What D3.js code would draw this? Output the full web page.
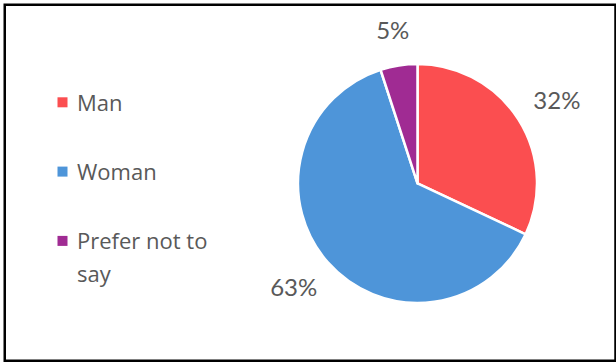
<!DOCTYPE html>
<html>
<head>
<meta charset="utf-8">
<script src="https://cdn.jsdelivr.net/npm/d3@7"></script>
<style>
  html, body { margin: 0; padding: 0; background: #fff; }
  svg { display: block; }
  text { fill: #595959; }
</style>
</head>
<body>
<svg id="chart" width="616" height="362"></svg>
<script>
// Respondent gender breakdown
const categories = ["Man", "Woman", "Prefer not to say"];
const legendLines = [["Man"], ["Woman"], ["Prefer not to", "say"]];
const values = [32, 63, 5];
const colors = ["#FB4E50", "#4E95D9", "#A02B93"];

const W = 616, H = 362;
const svg = d3.select("#chart");

// Chart frame
svg.append("rect")
  .attr("x", 4.75).attr("y", 4.75)
  .attr("width", 610.75).attr("height", 356)
  .attr("fill", "#fff")
  .attr("stroke", "#000").attr("stroke-width", 2.5);

// Pie
const cx = 417.5, cy = 183.4, r = 119.5;
const pie = d3.pie().sort(null).value(d => d)(values);
const arc = d3.arc().innerRadius(0).outerRadius(r);

const g = svg.append("g").attr("transform", `translate(${cx},${cy})`);
g.selectAll("path.slice")
  .data(pie)
  .join("path")
  .attr("class", "slice")
  .attr("d", arc)
  .attr("fill", (d, i) => colors[i])
  .attr("stroke", "#fff")
  .attr("stroke-width", 2.5)
  .attr("stroke-linejoin", "round");

// Percentage labels placed just outside each slice, pushed away from the rim
const labelGap = 22;
const labels = g.selectAll("text.pct")
  .data(pie)
  .join("text")
  .attr("class", "pct")
  .attr("font-family", "Lato, 'Open Sans', sans-serif")
  .attr("font-size", 24)
  .attr("text-anchor", "middle")
  .attr("dominant-baseline", "central")
  .text(d => d.data + "%");

labels.each(function(d) {
  const a = (d.startAngle + d.endAngle) / 2;
  const bb = this.getBBox();
  const rr = r + labelGap;
  const x = Math.sin(a) * (rr + bb.width / 2);
  const y = -Math.cos(a) * (rr + bb.height / 2);
  d3.select(this).attr("x", x).attr("y", y);
});

// Legend
const legendX = 57.5, legendTextX = 77;
const legendY = d3.scalePoint().domain(categories).range([102.3, 240.9]);
const lineH = 33;
const leg = svg.append("g");
categories.forEach((c, i) => {
  const y = legendY(c);
  leg.append("rect")
    .attr("x", legendX).attr("y", y - 5)
    .attr("width", 10).attr("height", 10)
    .attr("fill", colors[i]);
  const t = leg.append("text")
    .attr("x", legendTextX)
    .attr("y", y + 8.5)
    .attr("font-family", "'Open Sans', Lato, sans-serif")
    .attr("font-size", 22);
  legendLines[i].forEach((ln, j) => {
    t.append("tspan")
      .attr("x", legendTextX)
      .attr("dy", j === 0 ? 0 : lineH)
      .text(ln);
  });
});
</script>
</body>
</html>
